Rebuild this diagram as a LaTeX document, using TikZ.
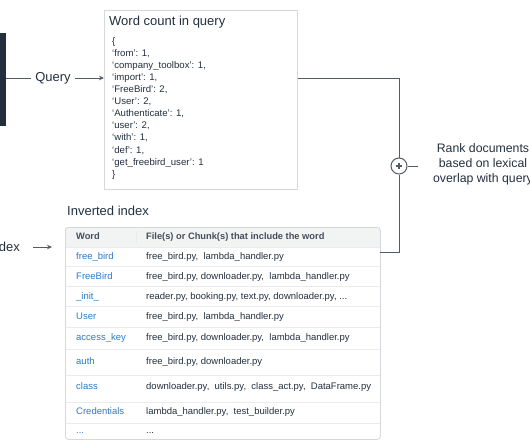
\documentclass[tikz,border=0pt]{standalone}
\usepackage{fontspec}
\setmainfont{Liberation Sans}
\usetikzlibrary{arrows.meta,calc}
\definecolor{ink}{HTML}{232F3E}
\definecolor{linec}{HTML}{545B64}
\definecolor{boxb}{HTML}{D5D9DD}
\definecolor{rowl}{HTML}{E9EBED}
\definecolor{hdr}{HTML}{F2F3F3}
\definecolor{wblue}{HTML}{2A7BC8}
\begin{document}
\begin{tikzpicture}[x=1pt,y=-1pt,
  conn/.style={draw=linec, line width=1pt},
  arr/.style={conn, -{Stealth[length=5pt,width=4.5pt]}},
  lbl/.style={text=ink, inner sep=0pt, font=\fontsize{13}{15}\selectfont},
  entry/.style={text=ink, anchor=west, inner sep=0pt, text height=7pt, text depth=2pt, font=\fontsize{9.6}{11}\selectfont},
  cellw/.style={text=wblue, anchor=west, inner sep=0pt, text height=7pt, text depth=2pt, font=\fontsize{9.5}{11}\selectfont},
  cellf/.style={text=ink, anchor=west, inner sep=0pt, text height=7pt, text depth=2pt, font=\fontsize{9.5}{11}\selectfont},
  hdrtxt/.style={text=ink!85, anchor=west, inner sep=0pt, text height=7pt, text depth=2pt, font=\bfseries\fontsize{9.3}{11}\selectfont},
  rowline/.style={draw=rowl, line width=0.8pt}
]
\useasboundingbox (0,0) rectangle (530,442);
\clip (0,0) rectangle (530,442);

% left dark block
\fill[ink] (-10,33) rectangle (6,126);
\coordinate (blk) at (6,78);

% Query label and arrows
\node[lbl, inner xsep=4.5pt] (qry) at (53,78) {Query};
\draw[conn] (blk) -- (qry.west);

% Word count box
\node[draw=boxb, line width=0.8pt, fill=white, minimum width=193pt, minimum height=179pt, anchor=north west, inner sep=0pt] (wc) at (104,10) {};
\draw[arr] (qry.east) -- (wc.west |- qry);
\node[lbl, anchor=west] (wct) at (109,22) {Word count in query};
\node[entry] (e0) at (112,42) {\{};
\node[entry] (e1) at (112,54) {‘from’: 1,};
\node[entry] (e2) at (112,66) {‘company\_toolbox’: 1,};
\node[entry] (e3) at (112,78) {‘import’: 1,};
\node[entry] (e4) at (112,90) {‘FreeBird’: 2,};
\node[entry] (e5) at (112,102) {‘User’: 2,};
\node[entry] (e6) at (112,114) {‘Authenticate’: 1,};
\node[entry] (e7) at (112,126) {‘user’: 2,};
\node[entry] (e8) at (112,138) {‘with’: 1,};
\node[entry] (e9) at (112,151) {‘def’: 1,};
\node[entry] (e10) at (112,163) {‘get\_freebird\_user’: 1};
\node[entry] (e11) at (112,175) {\}};

% Inverted index
\node[lbl, anchor=west] (iit) at (67,211) {Inverted index};
\node[lbl, anchor=east] (idx) at (20,247) {Index};

\begin{scope}
\clip[rounded corners=3pt] (65,227) rectangle (380,439);
\fill[hdr] (65,227) rectangle (380,247);
\end{scope}
\node[draw=boxb, line width=0.8pt, rounded corners=3pt, minimum width=315pt, minimum height=212pt, anchor=north west, inner sep=0pt] (tbl) at (65,227) {};
\draw[arr, shorten <=13pt, shorten >=13pt] (idx.east) -- (tbl.west |- idx);

\foreach \yy in {247,266,286,306,327,349,375,402,423} {
  \draw[rowline] (65.5,\yy) -- (379.5,\yy);
}
\draw[draw=rowl, line width=1pt] (136,231) -- (136,243);

\node[hdrtxt] (h1) at (76,237) {Word};
\node[hdrtxt] (h2) at (146,237) {File(s) or Chunk(s) that include the word};

\node[cellw] (w1) at (76,257) {free\_bird};
\node[cellf] (f1) at (146,257) {free\_bird.py,\ \ lambda\_handler.py};
\node[cellw] (w2) at (76,277) {FreeBird};
\node[cellf] (f2) at (146,277) {free\_bird.py, downloader.py,\ \ lambda\_handler.py};
\node[cellw] (w3) at (76,297) {\_init\_};
\node[cellf] (f3) at (146,297) {reader.py, booking.py, text.py, downloader.py, ...};
\node[cellw] (w4) at (76,317) {User};
\node[cellf] (f4) at (146,317) {free\_bird.py,\ \ lambda\_handler.py};
\node[cellw] (w5) at (76,338) {access\_key};
\node[cellf] (f5) at (146,338) {free\_bird.py, downloader.py,\ \ lambda\_handler.py};
\node[cellw] (w6) at (76,362) {auth};
\node[cellf] (f6) at (146,362) {free\_bird.py, downloader.py};
\node[cellw] (w7) at (76,387) {class};
\node[cellf] (f7) at (146,387) {downloader.py,\ \ utils.py,\ \ class\_act.py,\ \ DataFrame.py};
\node[cellw] (w8) at (76,412) {Credentials};
\node[cellf] (f8) at (146,412) {lambda\_handler.py,\ \ test\_builder.py};
\node[cellw] (w9) at (76,431) {...};
\node[cellf] (f9) at (146,431) {...};

% merge circle
\node[circle, draw=linec, line width=1pt, minimum size=16pt, inner sep=0pt, fill=white] (plus) at (399,166) {};
\draw[linec, line width=1.1pt] ($(plus.center)+(-3.2,0)$) -- ($(plus.center)+(3.2,0)$);
\draw[linec, line width=1.1pt] ($(plus.center)+(0,-3.2)$) -- ($(plus.center)+(0,3.2)$);
\coordinate (tin) at (380,252);
\draw[conn] (wc.east |- qry) -| (plus.north);
\draw[conn] (tin) -| (plus.south);
\coordinate (rk) at (418,166);
\draw[conn] (plus.east) -- (rk);
\node[text=ink, align=center, inner sep=0pt, font=\fontsize{12.3}{15}\selectfont] (rank) at (483,164) {Rank documents\\based on lexical\\overlap with query};
\end{tikzpicture}
\end{document}
